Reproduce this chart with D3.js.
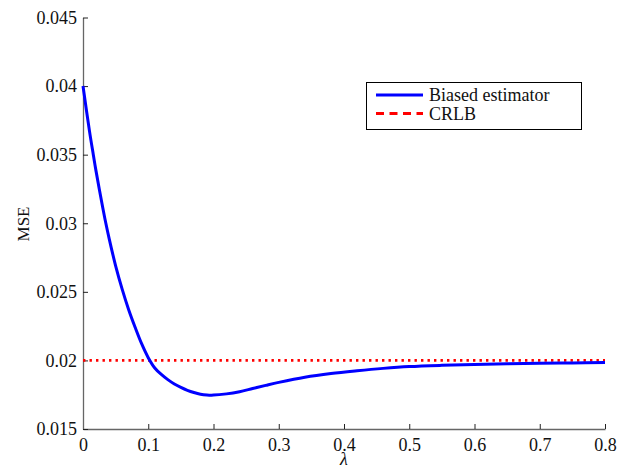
<!DOCTYPE html>
<html><head><meta charset="utf-8">
<script src="https://d3js.org/d3.v7.min.js"></script>
<style>body{margin:0;background:#fff;} svg{display:block;} svg text{font-family:"Times New Roman","Liberation Serif","Nimbus Roman","DejaVu Serif",serif !important;}</style>
</head><body>
<svg id="c" width="617" height="470"></svg>
<script>
const lambdaValues = [0, 0.01, 0.0158, 0.02, 0.03, 0.035, 0.04, 0.05, 0.06, 0.07, 0.08, 0.09, 0.10, 0.11, 0.12, 0.13, 0.14, 0.15, 0.16, 0.17, 0.18, 0.19, 0.20, 0.22, 0.24, 0.26, 0.28, 0.30, 0.34, 0.38, 0.42, 0.46, 0.50, 0.55, 0.60, 0.65, 0.70, 0.75, 0.80];
const mseValues    = [0.0400, 0.0367, 0.0350, 0.0338, 0.0312, 0.0300, 0.0289, 0.0269, 0.0252, 0.0237, 0.0224, 0.0212, 0.0202, 0.01945, 0.01898, 0.0186, 0.01828, 0.01803, 0.01782, 0.01766, 0.01754, 0.01748, 0.01747, 0.01756, 0.01772, 0.01795, 0.01818, 0.0184, 0.01878, 0.01905, 0.01925, 0.01942, 0.01955, 0.01964, 0.0197, 0.01975, 0.01979, 0.01982, 0.01985];
const crlbValue = 0.02;
const xTicks = [0, 0.1, 0.2, 0.3, 0.4, 0.5, 0.6, 0.7, 0.8];
const yTicks = [0.015, 0.02, 0.025, 0.03, 0.035, 0.04, 0.045];
const seriesNames = ["Biased estimator", "CRLB"];

const FONT = '"Times New Roman","Liberation Serif","Nimbus Roman","DejaVu Serif",serif';
const svg = d3.select("#c");
const x = d3.scaleLinear().domain([0, 0.8]).range([83, 605]);
const y = d3.scaleLinear().domain([0.015, 0.045]).range([429, 17.5]);

// axes
const xAxis = d3.axisBottom(x).tickValues(xTicks).tickSizeInner(-5).tickSizeOuter(0).tickPadding(9).tickFormat(d => String(+d.toFixed(2)));
const yAxis = d3.axisLeft(y).tickValues(yTicks).tickSizeInner(-5).tickSizeOuter(0).tickPadding(6).tickFormat(d => String(+d.toFixed(3)));
const gx = svg.append("g").attr("transform", `translate(0,${y(0.015)})`).call(xAxis);
const gy = svg.append("g").attr("transform", `translate(${x(0)},0)`).call(yAxis);
[gx, gy].forEach(g => {
  g.attr("font-family", FONT);
  g.select(".domain").attr("stroke", "#666").attr("stroke-width", 1.3);
  g.selectAll(".tick line").attr("stroke", "#222").attr("stroke-width", 1);
  g.selectAll(".tick text").attr("fill", "#111").attr("font-size", 18).style("font-family", FONT);
});
gx.selectAll(".tick text").attr("dy", "0.71em");

// CRLB dotted line
svg.append("line")
  .attr("x1", x(0)).attr("x2", x(0.8))
  .attr("y1", y(crlbValue)).attr("y2", y(crlbValue))
  .attr("stroke", "#ff0000").attr("stroke-width", 2.6)
  .attr("stroke-dasharray", "2.4,4.1");

// biased estimator curve
const data = lambdaValues.map((l, i) => [l, mseValues[i]]);
svg.append("path").datum(data)
  .attr("fill", "none").attr("stroke", "#0000ff").attr("stroke-width", 3)
  .attr("d", d3.line().x(d => x(d[0])).y(d => y(d[1])).curve(d3.curveCatmullRom.alpha(0.5)));

// axis labels
svg.append("text").attr("x", 344).attr("y", 465).attr("text-anchor", "middle")
  .attr("font-size", 18).attr("font-style", "italic").attr("fill", "#111").style("font-family", FONT).text("λ");
svg.append("text").attr("transform", "translate(29,224) rotate(-90)").attr("text-anchor", "middle")
  .attr("font-size", 17).attr("fill", "#111").style("font-family", FONT).text("MSE");

// legend
const lg = svg.append("g");
lg.append("rect").attr("x", 366.5).attr("y", 82.5).attr("width", 215).attr("height", 47)
  .attr("fill", "#fff").attr("stroke", "#000").attr("stroke-width", 1);
lg.append("line").attr("x1", 376).attr("x2", 423).attr("y1", 95).attr("y2", 95)
  .attr("stroke", "#0000ff").attr("stroke-width", 3);
lg.append("line").attr("x1", 376).attr("x2", 423).attr("y1", 113.5).attr("y2", 113.5)
  .attr("stroke", "#ff0000").attr("stroke-width", 3).attr("stroke-dasharray", "8,5.5");
lg.append("text").attr("x", 429).attr("y", 101).attr("font-size", 18).attr("fill", "#111").style("font-family", FONT).text(seriesNames[0]);
lg.append("text").attr("x", 429).attr("y", 120).attr("font-size", 18).attr("fill", "#111").style("font-family", FONT).text(seriesNames[1]);
</script>
</body></html>
